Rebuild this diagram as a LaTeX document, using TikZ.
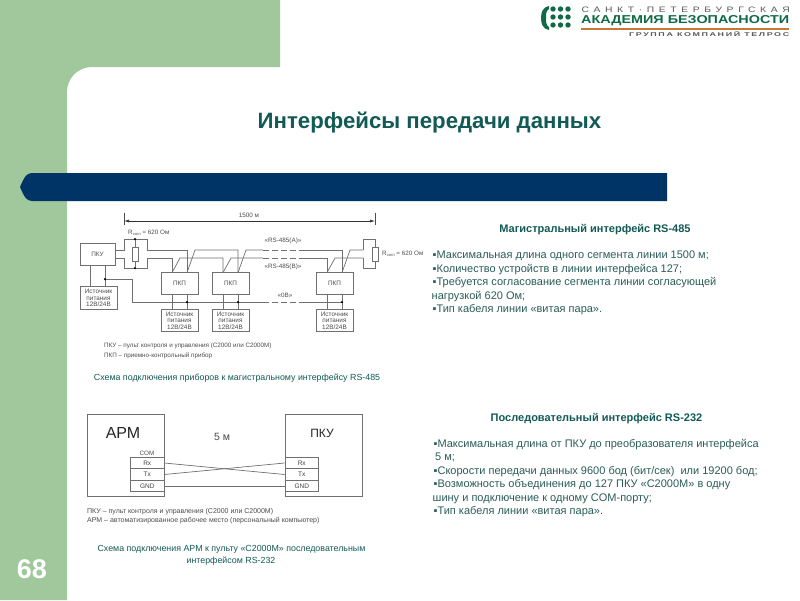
\documentclass[tikz,border=0pt]{standalone}
\usepackage{fontspec}
\usepackage{graphicx}
\setmainfont{Liberation Sans}
\usetikzlibrary{calc,arrows.meta}
\definecolor{gbg}{HTML}{A0C89C}
\definecolor{barblue}{HTML}{003366}
\definecolor{teal1}{HTML}{125A55}
\definecolor{body1}{HTML}{2A5C58}
\definecolor{logog}{HTML}{0F6A45}
\definecolor{logoo}{HTML}{C8763A}
\definecolor{wire}{HTML}{707070}
\tikzset{
 px/.style={font=\fontsize{#1}{#1}\selectfont},
 dev/.style={draw=wire,line width=0.7pt,fill=white,align=center,inner sep=0pt,text=black!70,px=6.4},
 pkp/.style={dev,minimum width=37pt,minimum height=21.5pt},
 src/.style={dev,minimum width=37pt,minimum height=22.5pt},
 res/.style={draw=wire,line width=0.7pt,fill=white,minimum width=6pt,minimum height=14pt,inner sep=0pt},
 wl/.style={wire,line width=0.7pt},
 dsh/.style={wl,dash pattern=on 6pt off 3pt},
 dot/.style={circle,fill=black,inner sep=0pt,minimum size=2.5pt},
 lbl/.style={text=black!70,px=6.3,inner sep=0pt},
 leg/.style={lbl,anchor=west,px=6.3,yshift=-0.7pt},
 leg2/.style={lbl,anchor=west,px=7,yshift=-0.7pt},
 capt/.style={text=teal1,inner sep=0pt,px=8.85,align=center,yshift=-0.8pt},
 headt/.style={text=teal1,inner sep=0pt,font=\fontsize{11}{11}\selectfont\bfseries,yshift=-1.5pt},
 bodyl/.style={text=body1,inner sep=0pt,anchor=west,font=\fontsize{11}{11}\selectfont,yshift=-1.3pt},
 rsbox/.style={draw=wire,line width=0.7pt,fill=white,inner sep=0pt,text=black!75,px=6.5,minimum height=11.5pt,minimum width=33.5pt},
 bigb/.style={draw=wire,line width=0.7pt,fill=white,minimum width=77pt,minimum height=82pt},
 ldot/.style={circle,fill=logog,inner sep=0pt,minimum size=5.4pt},
}
\begin{document}
\begin{tikzpicture}[x=1pt,y=-1pt]
\useasboundingbox (0,0) rectangle (800,600);
\fill[white] (0,0) rectangle (800,600);
% green background
\fill[gbg] (0,0) -- (280,0) -- (280,67) -- (92,67) .. controls (78,67) and (67,78) .. (67,92) -- (67,600) -- (0,600) -- cycle;
% bar
\fill[barblue] (667,173) -- (32,173) .. controls (26,173) and (24,178) .. (20,187) .. controls (24,196) and (26,201) .. (32,201) -- (667,201) -- cycle;
\node[text=white,inner sep=0pt,font=\fontsize{27}{27}\selectfont\bfseries] (num) at (32,569) {68};
\node[text=teal1,inner sep=0pt,font=\fontsize{22.2}{22.2}\selectfont\bfseries] (title) at (429.5,123) {Интерфейсы передачи данных};
% logo
\foreach \i/\x in {1/553,2/560.5,3/568}{\foreach \j/\y in {1/9,2/17,3/25}{\node[ldot] (d\i\j) at (\x,\y) {};}}
\fill[logog] (549,6) .. controls (543,7) and (541,12) .. (541,18) .. controls (541,24) and (543,29) .. (549,30) -- (549,27) .. controls (546,25) and (546,22) .. (546,18) .. controls (546,14) and (546,11) .. (549,9) -- cycle;
\node[inner sep=0pt,anchor=west,text=black!65] (l1) at (581.5,10) {\resizebox{208pt}{5.5pt}{\addfontfeatures{LetterSpace=45}САНКТ·ПЕТЕРБУРГСКАЯ}};
\node[inner sep=0pt,anchor=west,text=logog] (l2) at (581,21) {\resizebox{208pt}{8pt}{\bfseries АКАДЕМИЯ БЕЗОПАСНОСТИ}};
\fill[logoo] (581,27.5) rectangle (789,29.5);
\node[inner sep=0pt,anchor=west,text=black!65] (l3) at (629,34.5) {\resizebox{160pt}{5pt}{\bfseries\addfontfeatures{LetterSpace=18}ГРУППА КОМПАНИЙ ТЕЛРОС}};

% ---- RS-485 scheme
\coordinate (t1) at (124,213); \coordinate (t1b) at (124,225);
\coordinate (t2) at (375,213); \coordinate (t2b) at (375,225);
\draw[wl,black!70] (t1) -- (t1b); \draw[wl,black!70] (t2) -- (t2b);
\coordinate (d1) at (124,221); \coordinate (d2) at (375,221);
\draw[black!80,line width=0.6pt,{Latex[length=5pt,width=3pt]}-{Latex[length=5pt,width=3pt]}] (d1) -- (d2);
\node[lbl] (len) at (249,215) {1500 м};

\node[dev,minimum width=35pt,minimum height=22pt] (pku) at (97.5,254) {ПКУ};
\node[src] (s0) at (98.5,298) {Источник\\питания\\12В/24В};
\node[pkp] (p1) at (179.5,283.5) {ПКП};
\node[pkp] (p2) at (230.5,283.5) {ПКП};
\node[pkp] (p3) at (334.5,283.5) {ПКП};
\node[src] (s1) at (179.5,320.5) {Источник\\питания\\12В/24В};
\node[src] (s2) at (230.5,320.5) {Источник\\питания\\12В/24В};
\node[src] (s3) at (334.5,320.5) {Источник\\питания\\12В/24В};

% left bracket and resistor
\coordinate (lA) at (124,250); \coordinate (lB) at (124,258);
\coordinate (lAr) at (147,250); \coordinate (lBr) at (147,258);
\draw[wl] (115,250) -- (lA) -- (124,239) -- (147,239) -- (lAr);
\draw[wl] (115,258) -- (lB) -- (124,268) -- (147,268) -- (lBr);
\node[dot] (dl1) at (135,239) {};
\node[dot] (dl2) at (135,268) {};
\draw[wl] (dl1) -- (dl2);
\node[res] (r1) at (135,254) {};
% right bracket and resistor
\coordinate (rA) at (363,250); \coordinate (rB) at (363,258);
\draw[wl] (rA) -- (363,239) -- (375,239) -- (375,268) -- (363,268) -- (rB);
\node[res] (r2) at (375,254) {};
\node[lbl,anchor=west] (rt1) at (128,233) {R\raisebox{-1pt}{\fontsize{4}{4}\selectfont согл} = 620 Ом};
\node[lbl,anchor=west] (rt2) at (382,254) {R\raisebox{-1pt}{\fontsize{4}{4}\selectfont согл} = 620 Ом};

% buses A (y=250) and B (y=258)
\draw[wl] (lAr) -- (187,250) -- (187,272.7);
\draw[wl] (187,272.7) -- (195,250) -- (238,250) -- (238,272.7);
\draw[wl] (238,272.7) -- (246,250) -- (263,250);
\draw[dsh] (263,250) -- (300,250);
\draw[wl] (300,250) -- (342,250) -- (342,272.7);
\draw[wl] (342,272.7) -- (350,250) -- (rA);
\draw[wl] (lBr) -- (172,258) -- (172,272.7);
\draw[wl] (172,272.7) -- (180,258) -- (223,258) -- (223,272.7);
\draw[wl] (223,272.7) -- (231,258) -- (263,258);
\draw[dsh] (263,258) -- (300,258);
\draw[wl] (300,258) -- (327,258) -- (327,272.7);
\draw[wl] (327,272.7) -- (335,258) -- (rB);
\node[lbl] (la) at (283,241) {«RS-485(A)»};
\node[lbl] (lb) at (283,267) {«RS-485(B)»};
\node[lbl] (l0) at (285,295) {«0В»};

% power lines
\draw[wl] ($(pku.south)+(-7.5,0)$) -- ($(s0.north)+(-8.5,0)$);
\draw[wl] ($(pku.south)+(7.5,0)$) -- ($(s0.north)+(6.5,0)$);
\node[dot] (dz) at (105,279) {};
\draw[wl] (dz) -- (132,279) -- (132,302) -- (263,302);
\draw[dsh] (263,302) -- (300,302);
\draw[wl] (300,302) -- (342,302);
\foreach \k/\c in {1/179.5,2/230.5,3/334.5}{
 \draw[wl] ($(p\k.south)+(-7.5,0)$) -- ($(s\k.north)+(-7.5,0)$);
 \draw[wl] ($(p\k.south)+(7.5,0)$) -- ($(s\k.north)+(7.5,0)$);
 \node[dot] (z\k) at (\c+7.5,302) {};
}
\node[leg] (a1) at (104,345) {ПКУ – пульт контроля и управления (С2000 или С2000М)};
\node[leg] (a2) at (104,355) {ПКП – приемно-контрольный прибор};
\node[capt] (c1) at (237,377) {Схема подключения приборов к магистральному интерфейсу RS-485};

% ---- RS-232 scheme
\node[bigb] (arm) at (125.5,455) {};
\node[bigb] (pk2) at (323.5,455) {};
\node[inner sep=0pt,text=black!85,font=\fontsize{16}{16}\selectfont] (armt) at (123,433) {АРМ};
\node[inner sep=0pt,text=black!85,font=\fontsize{12}{12}\selectfont] (pk2t) at (322,433) {ПКУ};
\node[inner sep=0pt,text=black!70,font=\fontsize{10.5}{10.5}\selectfont] (five) at (222,437) {5 м};
\node[lbl] (com) at (147,453) {COM};
\node[rsbox] (arx) at (147.25,463) {Rx};
\node[rsbox] (atx) at (147.25,474.5) {Tx};
\node[rsbox] (agn) at (147.25,486) {GND};
\node[rsbox] (brx) at (301.75,463) {Rx};
\node[rsbox] (btx) at (301.75,474.5) {Tx};
\node[rsbox] (bgn) at (301.75,486) {GND};
\draw[wl] (arx.east) -- (btx.west);
\draw[wl] (atx.east) -- (brx.west);
\draw[wl] (agn.east) -- (bgn.west);
\node[leg2] (b1) at (87,511) {ПКУ – пульт контроля и управления (С2000 или С2000М)};
\node[leg2] (b2) at (87,520) {АРМ – автоматизированное рабочее место (персональный компьютер)};
\node[capt] (c2a) at (231.5,549) {Схема подключения АРМ к пульту «С2000М» последовательным};
\node[capt] (c2b) at (231,560) {интерфейсом RS-232};

% ---- right text
\node[headt] (h1) at (595,228) {Магистральный интерфейс RS-485};
\node[bodyl] (t11) at (432.5,254) {▪Максимальная длина одного сегмента линии 1500 м;};
\node[bodyl] (t12) at (432.5,268) {▪Количество устройств в линии интерфейса 127;};
\node[bodyl] (t13) at (432.5,281) {▪Требуется согласование сегмента линии согласующей};
\node[bodyl] (t14) at (431.5,295) {нагрузкой 620 Ом;};
\node[bodyl] (t15) at (432.5,308) {▪Тип кабеля линии «витая пара».};
\node[headt] (h2) at (596.5,417) {Последовательный интерфейс RS-232};
\node[bodyl] (t21) at (433.5,443) {▪Максимальная длина от ПКУ до преобразователя интерфейса};
\node[bodyl] (t22) at (435,456.5) {5 м;};
\node[bodyl] (t23) at (433.5,470) {▪Скорости передачи данных 9600 бод (бит/сек)\ \ или 19200 бод;};
\node[bodyl] (t24) at (433.5,483.5) {▪Возможность объединения до 127 ПКУ «С2000М» в одну};
\node[bodyl] (t25) at (432.5,497) {шину и подключение к одному COM-порту;};
\node[bodyl] (t26) at (433.5,510) {▪Тип кабеля линии «витая пара».};
\end{tikzpicture}
\end{document}
